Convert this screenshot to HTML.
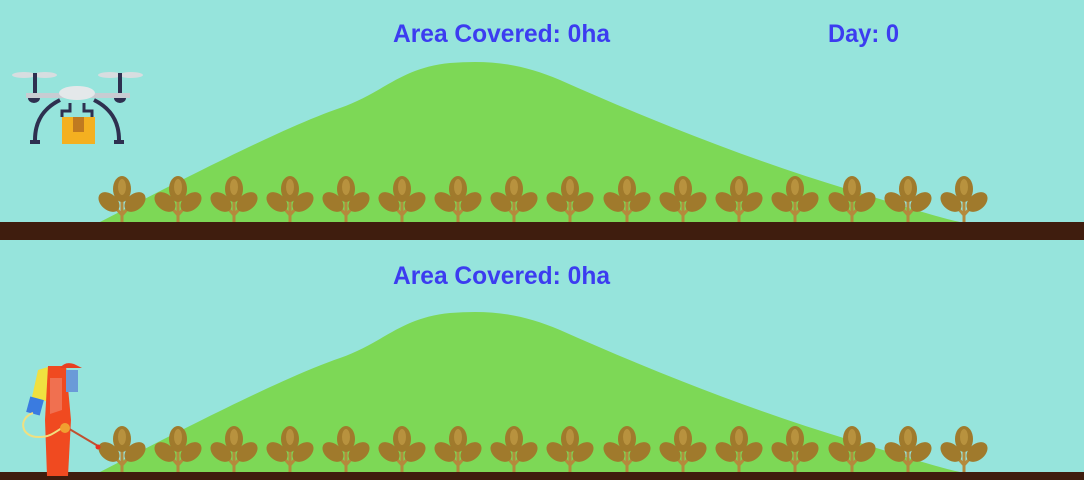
<!DOCTYPE html>
<html><head><style>
html,body{margin:0;padding:0;background:#96e4dc;}
svg{display:block;}
text{font-family:"Liberation Sans",sans-serif;fill:#3c3cf0;font-size:25px;font-weight:bold;}
</style></head><body>
<svg width="1084" height="480" viewBox="0 0 1084 480" xmlns="http://www.w3.org/2000/svg">
<defs>
<g id="plant">
  <path d="M0,48 L0,18 M0,38 L-9,28 M0,38 L9,28" stroke="#b48a3c" stroke-width="3" fill="none"/>
  <ellipse cx="0" cy="12" rx="9" ry="13" fill="#a07a2c"/>
  <ellipse cx="-13" cy="25" rx="8" ry="12" transform="rotate(-50 -13 25)" fill="#a07a2c"/>
  <ellipse cx="13" cy="25" rx="8" ry="12" transform="rotate(50 13 25)" fill="#a07a2c"/>
  <ellipse cx="0" cy="10" rx="4" ry="8" fill="#b8923e"/>
</g>
<g id="panel">
  <rect x="0" y="0" width="1084" height="222" fill="#96e4dc"/>
  <path d="M100,222 C200,170 290,125 340,108 C385,92 400,68 450,63 C490,60 520,63 560,80 C650,120 750,160 850,190 C900,205 940,218 960,222 Z" fill="#7dd856"/>
  <g transform="translate(0,177)">
    <use href="#plant" x="122"/><use href="#plant" x="178"/><use href="#plant" x="234"/><use href="#plant" x="290"/>
    <use href="#plant" x="346"/><use href="#plant" x="402"/><use href="#plant" x="458"/><use href="#plant" x="514"/>
    <use href="#plant" x="570"/><use href="#plant" x="627"/><use href="#plant" x="683"/><use href="#plant" x="739"/>
    <use href="#plant" x="795"/><use href="#plant" x="852"/><use href="#plant" x="908"/><use href="#plant" x="964"/>
  </g>
  <rect x="0" y="222" width="1084" height="18" fill="#3f1d0e"/>
</g>
</defs>
<use href="#panel"/>
<use href="#panel" y="250"/>
<rect x="0" y="240" width="1084" height="10" fill="#96e4dc"/>
<text x="393" y="42" textLength="217" lengthAdjust="spacingAndGlyphs">Area Covered: 0ha</text>
<text x="828" y="42" textLength="71" lengthAdjust="spacingAndGlyphs">Day: 0</text>
<text x="393" y="284" textLength="217" lengthAdjust="spacingAndGlyphs">Area Covered: 0ha</text>
<!-- drone -->
<g>
  <ellipse cx="24" cy="75" rx="12" ry="3" fill="#d8dde0"/>
  <ellipse cx="45" cy="75" rx="12" ry="3" fill="#d8dde0"/>
  <ellipse cx="110" cy="75" rx="12" ry="3" fill="#d8dde0"/>
  <ellipse cx="131" cy="75" rx="12" ry="3" fill="#d8dde0"/>
  <rect x="33" y="73" width="4" height="22" fill="#2e3050"/>
  <rect x="118" y="73" width="4" height="22" fill="#2e3050"/>
  <rect x="26" y="93" width="104" height="5" fill="#c8ccd2"/>
  <ellipse cx="77" cy="93" rx="18" ry="7" fill="#e4e8ea"/>
  <path d="M28,98 a6,5 0 0 0 12,0 Z M114,98 a6,5 0 0 0 12,0 Z" fill="#2e3050"/>
  <path d="M60,100 C40,110 35,125 35,140 M94,100 C114,110 119,125 119,140" stroke="#2e3050" stroke-width="4" fill="none"/>
  <path d="M30,142 h10 M114,142 h10" stroke="#2e3050" stroke-width="4"/>
  <path d="M70,103 v8 h-8 v6 M84,103 v8 h8 v6" stroke="#2e3050" stroke-width="3" fill="none"/>
  <rect x="62" y="117" width="33" height="27" fill="#f4b020"/>
  <rect x="73" y="117" width="11" height="15" fill="#c07a20"/>
</g>
<!-- sprayer -->
<g>
  <path d="M38,370 l10,-3 l6,4 l-8,30 l-14,-4 Z" fill="#f0e040"/>
  <rect x="28" y="398" width="14" height="16" fill="#3a7be0" transform="rotate(15 35 406)"/>
  <path d="M48,366 L66,366 L71,420 L68,476 L47,476 L45,420 Z" fill="#f04a20"/>
  <path d="M50,378 L62,378 L62,410 L50,414 Z" fill="#f07050"/>
  <path d="M60,368 q5,-7 14,-4 l8,4 Z" fill="#e84020"/>
  <path d="M66,370 h12 v22 h-12 Z" fill="#6a9ad8"/>
  <path d="M66,427 L98,446" stroke="#c05030" stroke-width="2"/>
  <circle cx="98" cy="447" r="2.5" fill="#e83020"/>
  <path d="M33,413 C18,418 20,438 40,437 C50,437 55,432 62,428" stroke="#f0e080" stroke-width="2" fill="none"/>
  <circle cx="65" cy="428" r="5" fill="#f0a030"/>
</g>
</svg>
</body></html>
